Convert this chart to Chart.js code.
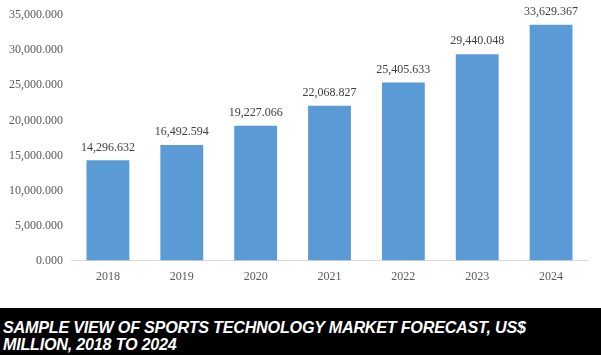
<!DOCTYPE html>
<html><head><meta charset="utf-8">
<script src="https://cdn.jsdelivr.net/npm/chart.js@4/dist/chart.umd.min.js"></script>
<style>
html,body{margin:0;padding:0;background:#fff;width:601px;height:355px;overflow:hidden}
#wrap{position:absolute;left:0;top:0;width:601px;height:308px}
#title{position:absolute;left:0;top:308px;width:601px;height:47px;background:#000;color:#fff;
font-family:"Liberation Sans",Arial,sans-serif;font-weight:bold;font-style:italic;font-size:16.2px;line-height:17px;padding:11px 0 0 3px;box-sizing:border-box;letter-spacing:-0.25px}
</style></head><body>
<div id="wrap"><canvas id="c" width="601" height="308"></canvas></div>
<div id="title">SAMPLE VIEW OF SPORTS TECHNOLOGY MARKET FORECAST, US$<br>MILLION, 2018 TO 2024</div>
<script>
const categories = ["2018","2019","2020","2021","2022","2023","2024"];
const values = [14296.632, 16492.594, 19227.066, 22068.827, 25405.633, 29440.048, 33629.367];
const fmt = v => v.toLocaleString("en-US",{minimumFractionDigits:3,maximumFractionDigits:3});
const labelPlugin = {
  id:"lbl",
  afterDatasetsDraw(chart){
    const ctx = chart.ctx;
    const meta = chart.getDatasetMeta(0);
    ctx.save();
    ctx.font = '12px "Liberation Serif", serif';
    ctx.fillStyle = "#404040";
    ctx.textAlign = "center";
    ctx.textBaseline = "bottom";
    meta.data.forEach((b,i)=>{ ctx.fillText(fmt(values[i]), b.x, b.y - 7); });
    ctx.restore();
  }
};
new Chart(document.getElementById("c"),{
  type:"bar",
  data:{labels:categories,datasets:[{data:values,backgroundColor:"#5b9bd5",categoryPercentage:1,barPercentage:0.58}]},
  options:{
    responsive:false,animation:false,
    layout:{padding:{top:15,right:13,left:1,bottom:15}},
    plugins:{legend:{display:false},tooltip:{enabled:false}},
    scales:{
      x:{grid:{display:false,drawTicks:false},border:{display:true,color:"#d9d9d9",width:1},
         ticks:{color:"#595959",font:{family:"Liberation Serif",size:12},padding:9}},
      y:{min:0,max:35000,grid:{display:false,drawTicks:false},border:{display:false},
         ticks:{stepSize:5000,color:"#595959",font:{family:"Liberation Serif",size:12},padding:8,callback:v=>fmt(v)}}
    }
  },
  plugins:[labelPlugin]
});
</script>
</body></html>
